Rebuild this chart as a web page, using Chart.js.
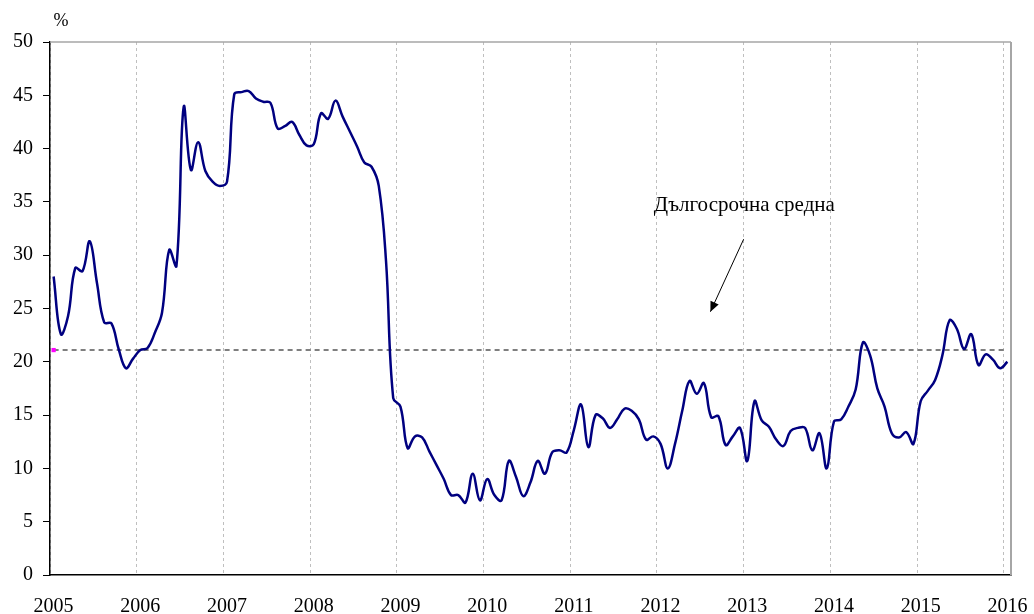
<!DOCTYPE html>
<html lang="bg">
<head>
  <meta charset="UTF-8" />
  <title>Дългосрочна средна</title>
  <script src="https://cdn.jsdelivr.net/npm/chart.js"></script>
  <style>
    body { margin: 0; background: #fff; }
    .wrap { width: 1034px; height: 614px; }
  </style>
</head>
<body>
  <div class="wrap"><canvas id="chart" width="1034" height="614"></canvas></div>

  <script>
  // data, monthly, Jan 2005 .. Jan 2016
  const years = ['2005', '2006', '2007', '2008', '2009', '2010', '2011', '2012', '2013', '2014', '2015', '2016'];
  const monthNames = ['01', '02', '03', '04', '05', '06', '07', '08', '09', '10', '11', '12'];

  const rate2005 = [28.0, 22.6, 24.3, 28.8, 28.5, 31.3, 27.4, 23.7, 23.6, 21.2, 19.4, 20.3];
  const rate2006 = [21.1, 21.3, 22.7, 24.6, 30.5, 29.0, 43.9, 38.0, 40.6, 37.9, 36.9, 36.5];
  const rate2007 = [36.9, 45.1, 45.3, 45.4, 44.7, 44.4, 44.3, 41.9, 42.1, 42.5, 41.3, 40.3];
  const rate2008 = [40.4, 43.3, 42.8, 44.5, 43.0, 41.6, 40.2, 38.7, 38.3, 36.5, 29.5, 16.6];
  const rate2009 = [15.8, 11.9, 13.0, 12.9, 11.6, 10.3, 9.0, 7.5, 7.5, 6.8, 9.5, 7.0];
  const rate2010 = [9.0, 7.5, 7.0, 10.7, 9.2, 7.4, 8.7, 10.7, 9.5, 11.5, 11.7, 11.5];
  const rate2011 = [13.6, 16.0, 12.0, 15.0, 14.7, 13.8, 14.6, 15.6, 15.4, 14.6, 12.7, 13.0];
  const rate2012 = [12.3, 10.0, 12.3, 15.4, 18.2, 17.0, 18.0, 14.8, 14.9, 12.2, 13.0, 13.8];
  const rate2013 = [10.7, 16.3, 14.5, 13.9, 12.7, 12.1, 13.5, 13.8, 13.8, 11.7, 13.3, 10.0];
  const rate2014 = [14.4, 14.6, 15.8, 17.4, 21.8, 20.6, 17.5, 15.8, 13.3, 12.9, 13.4, 12.3];
  const rate2015 = [16.3, 17.3, 18.3, 20.6, 23.9, 23.1, 21.2, 22.6, 19.7, 20.7, 20.2, 19.4];
  const rate2016 = [20.0];

  const longTermAvg = 21.1;

  // annotation anchors (category index, value)
  const noteText = 'Дългосрочна средна';
  const notePos = [95.6, 34.7];
  const arrowFrom = [95.5, 31.5];
  const arrowTo = [90.9, 24.7];

  const rates = [].concat(rate2005, rate2006, rate2007, rate2008, rate2009, rate2010,
    rate2011, rate2012, rate2013, rate2014, rate2015, rate2016);

  const labels = [];
  years.forEach(y => monthNames.forEach(m => labels.push(y + '-' + m)));
  labels.length = rates.length;

  const avgLine = rates.map(() => longTermAvg);

  const FONT = "'Liberation Serif', 'Times New Roman', serif";

  const extras = {
    id: 'extras',
    afterDraw(chart) {
      const { ctx, chartArea: a, scales } = chart;
      const xs = scales.x, ys = scales.y;
      const px = i => xs.left + (i + 0.5) * (xs.width / labels.length);
      ctx.save();
      // frame top and right
      ctx.strokeStyle = '#a6a6a6';
      ctx.lineWidth = 1.5;
      ctx.beginPath();
      ctx.moveTo(a.left, a.top);
      ctx.lineTo(a.right, a.top);
      ctx.stroke();
      ctx.lineWidth = 2;
      ctx.beginPath();
      ctx.moveTo(a.right, a.top);
      ctx.lineTo(a.right, a.bottom);
      ctx.stroke();

      // unit
      ctx.fillStyle = '#000';
      ctx.font = '18px ' + FONT;
      ctx.textAlign = 'center';
      ctx.textBaseline = 'middle';
      ctx.fillText('%', a.left + 11, a.top - 21);

      // note
      ctx.font = '21px ' + FONT;
      ctx.fillText(noteText, px(notePos[0]), ys.getPixelForValue(notePos[1]));

      // arrow
      const x1 = px(arrowFrom[0]), y1 = ys.getPixelForValue(arrowFrom[1]);
      const x2 = px(arrowTo[0]), y2 = ys.getPixelForValue(arrowTo[1]);
      ctx.strokeStyle = '#000';
      ctx.lineWidth = 1;
      ctx.beginPath();
      ctx.moveTo(x1, y1);
      ctx.lineTo(x2, y2);
      ctx.stroke();
      const ang = Math.atan2(y2 - y1, x2 - x1);
      const L = 10, W = 4.5;
      ctx.beginPath();
      ctx.moveTo(x2, y2);
      ctx.lineTo(x2 - L * Math.cos(ang) + W * Math.sin(ang), y2 - L * Math.sin(ang) - W * Math.cos(ang));
      ctx.lineTo(x2 - L * Math.cos(ang) - W * Math.sin(ang), y2 - L * Math.sin(ang) + W * Math.cos(ang));
      ctx.closePath();
      ctx.fillStyle = '#000';
      ctx.fill();
      ctx.restore();
    }
  };

  new Chart(document.getElementById('chart'), {
    type: 'line',
    data: {
      labels: labels,
      datasets: [
        {
          label: 'rate',
          data: rates,
          borderColor: '#000080',
          borderWidth: 2.5,
          pointRadius: 0,
          tension: 0.4,
          fill: false,
          order: 1
        },
        {
          label: 'avg',
          data: avgLine,
          borderColor: '#555555',
          borderWidth: 1.5,
          borderDash: [5, 4],
          pointStyle: 'rect',
          pointRadius: ctx => ctx.dataIndex === 0 ? 3 : 0,
          pointBackgroundColor: '#ff00ff',
          pointBorderColor: '#ff00ff',
          pointBorderWidth: 0,
          fill: false,
          order: 2
        }
      ]
    },
    options: {
      responsive: false,
      animation: false,
      layout: { padding: { top: 42, right: 23, left: 0, bottom: 0 } },
      plugins: {
        legend: { display: false },
        tooltip: { enabled: false }
      },
      scales: {
        x: {
          type: 'category',
          offset: true,
          afterFit(scale) {
            scale.height = 39;
            scale.paddingLeft = 0;
            scale.paddingRight = 0;
          },
          grid: {
            offset: true,
            drawTicks: false,
            color: ctx => ctx.index % 12 === 0 ? '#bfbfbf' : 'rgba(0,0,0,0)',
            lineWidth: 1
          },
          border: { color: '#000', width: 1.5, dash: [3, 3] },
          ticks: {
            autoSkip: false,
            maxRotation: 0,
            padding: 20,
            color: '#000',
            font: { family: FONT, size: 20 },
            callback: (v, i) => i % 12 === 0 ? labels[i].slice(0, 4) : ''
          }
        },
        y: {
          min: 0,
          max: 50,
          afterFit(scale) { scale.width = 50; },
          grid: {
            drawOnChartArea: false,
            color: '#000',
            tickLength: 7
          },
          border: { color: '#000', width: 1.5 },
          ticks: {
            stepSize: 5,
            padding: 10,
            color: '#000',
            font: { family: FONT, size: 20 }
          }
        }
      }
    },
    plugins: [extras]
  });
  </script>
</body>
</html>
